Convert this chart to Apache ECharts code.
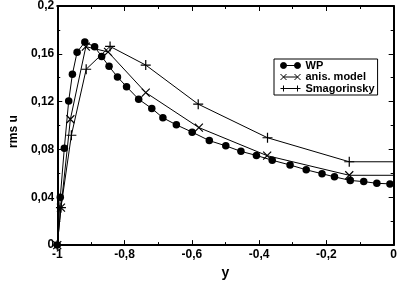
<!DOCTYPE html>
<html><head><meta charset="utf-8">
<script src="https://cdn.jsdelivr.net/npm/echarts@6.0.0/dist/echarts.min.js"></script>
<style>html,body{margin:0;padding:0;background:#fff}#c{width:400px;height:285px}</style>
</head><body><div id="c"></div><script>
// WP (filled circles)
const wpX = [-1, -0.991, -0.979, -0.966, -0.955, -0.941, -0.918, -0.889, -0.868, -0.846, -0.821, -0.794, -0.758, -0.719, -0.686, -0.646, -0.599, -0.548, -0.499, -0.454, -0.408, -0.361, -0.308, -0.260, -0.213, -0.176, -0.129, -0.089, -0.050, -0.011];
const wpY = [0, 0.040, 0.081, 0.1206, 0.1429, 0.1614, 0.1698, 0.1659, 0.1578, 0.1495, 0.1406, 0.1325, 0.1220, 0.1143, 0.1065, 0.1006, 0.0945, 0.0874, 0.0830, 0.0784, 0.0750, 0.0710, 0.0670, 0.0630, 0.0597, 0.0571, 0.0541, 0.0531, 0.0517, 0.0512];
// anis. model (x markers)
const anisX = [-1, -0.989, -0.961, -0.915, -0.849, -0.737, -0.579, -0.376, -0.132, 0];
const anisY = [0, 0.0313, 0.1053, 0.1660, 0.1616, 0.1276, 0.0983, 0.0748, 0.0584, 0.0584];
// Smagorinsky (+ markers)
const smagX = [-1, -0.989, -0.958, -0.914, -0.843, -0.737, -0.581, -0.375, -0.132, 0];
const smagY = [0, 0.0313, 0.0919, 0.1471, 0.1662, 0.1506, 0.1179, 0.0898, 0.0697, 0.0697];
// tick labels
const xTicks = [-1, -0.8, -0.6, -0.4, -0.2, 0];
const yTicks = [0, 0.04, 0.08, 0.12, 0.16, 0.2];
const seriesNames = ['WP', 'anis. model', 'Smagorinsky'];

const FONT = 'Liberation Sans, Arial, Helvetica, sans-serif';
const fmt = v => Math.abs(v) < 1e-9 ? '0' : String(parseFloat(v.toFixed(2))).replace('.', ',');

function pts(xs, ys, hideLast) {
  return xs.map((x, i) => (hideLast && i === xs.length - 1) ? { value: [x, ys[i]], symbol: 'none' } : [x, ys[i]]);
}

const axisCommon = {
  axisLine: { show: true, onZero: false, lineStyle: { color: '#000', width: 2 } },
  axisTick: { show: true, inside: true, length: 5, lineStyle: { color: '#000', width: 1 } },
  minorTick: { show: true, splitNumber: 2, length: 3, lineStyle: { color: '#000', width: 1 } },
  splitLine: { show: false }
};
const xBase = { type: 'value', min: xTicks[0], max: xTicks[xTicks.length - 1], interval: 0.2 };
const yBase = { type: 'value', min: yTicks[0], max: yTicks[yTicks.length - 1], interval: 0.04 };

const chart = echarts.init(document.getElementById('c'), null, { renderer: 'canvas' });
chart.setOption({
  animation: false,
  backgroundColor: '#fff',
  grid: { left: 40, right: 5, top: 6, bottom: 30 },
  xAxis: [
    Object.assign({}, xBase, axisCommon, {
      position: 'bottom',
      name: 'y', nameLocation: 'middle', nameGap: 13,
      nameTextStyle: { fontFamily: FONT, fontWeight: 'bold', fontSize: 14, color: '#000' },
      axisLabel: { show: true, margin: 4, formatter: fmt, fontFamily: FONT, fontWeight: 'bold', fontSize: 12, color: '#000' }
    }),
    Object.assign({}, xBase, axisCommon, { position: 'top', axisLabel: { show: false } })
  ],
  yAxis: [
    Object.assign({}, yBase, axisCommon, {
      position: 'left',
      name: 'rms u', nameLocation: 'middle', nameGap: 28,
      nameTextStyle: { fontFamily: FONT, fontWeight: 'bold', fontSize: 12, color: '#000', padding: [0, 12, 0, 0] },
      axisLabel: { show: true, margin: 3, formatter: fmt, fontFamily: FONT, fontWeight: 'bold', fontSize: 12, color: '#000' }
    }),
    Object.assign({}, yBase, axisCommon, { position: 'right', axisLabel: { show: false } })
  ],
  legend: {
    orient: 'vertical', left: 274, top: 59,
    padding: [1, 3, 1, 6], itemGap: 0.5,
    itemWidth: 20, itemHeight: 6,
    borderColor: '#000', borderWidth: 1, borderRadius: 0,
    textStyle: { fontFamily: FONT, fontWeight: 'bold', fontSize: 11, lineHeight: 10, color: '#000', padding: [0, 0, 0, 0] },
    itemStyle: { color: '#000', borderColor: '#000', borderWidth: 1 },
    data: [
      { name: seriesNames[0], icon: 'path://M0,4a3,3 0 1,0 6,0a3,3 0 1,0 -6,0ZM14,4a3,3 0 1,0 6,0a3,3 0 1,0 -6,0ZM3,4L17,4' },
      { name: seriesNames[1], icon: 'path://M0,1L6,7M0,7L6,1M14,1L20,7M14,7L20,1M3,4L17,4' },
      { name: seriesNames[2], icon: 'path://M3,1L3,7M17,1L17,7M0,4L20,4' }
    ]
  },
  series: [
    {
      name: seriesNames[0], type: 'line', data: pts(wpX, wpY, false),
      symbol: 'circle', symbolSize: 7.5, showAllSymbol: true,
      lineStyle: { color: '#000', width: 1 }, itemStyle: { color: '#000' }, z: 3
    },
    {
      name: seriesNames[1], type: 'line', data: pts(anisX, anisY, true),
      symbol: 'path://M0,0L10,10M0,10L10,0', symbolSize: 8, showAllSymbol: true,
      lineStyle: { color: '#000', width: 1 }, itemStyle: { color: '#000', borderColor: '#000', borderWidth: 1.2 }
    },
    {
      name: seriesNames[2], type: 'line', data: pts(smagX, smagY, true),
      symbol: 'path://M5,0L5,10M0,5L10,5', symbolSize: 10, showAllSymbol: true,
      lineStyle: { color: '#000', width: 1 }, itemStyle: { color: '#000', borderColor: '#000', borderWidth: 1.2 }
    }
  ]
});
</script></body></html>
